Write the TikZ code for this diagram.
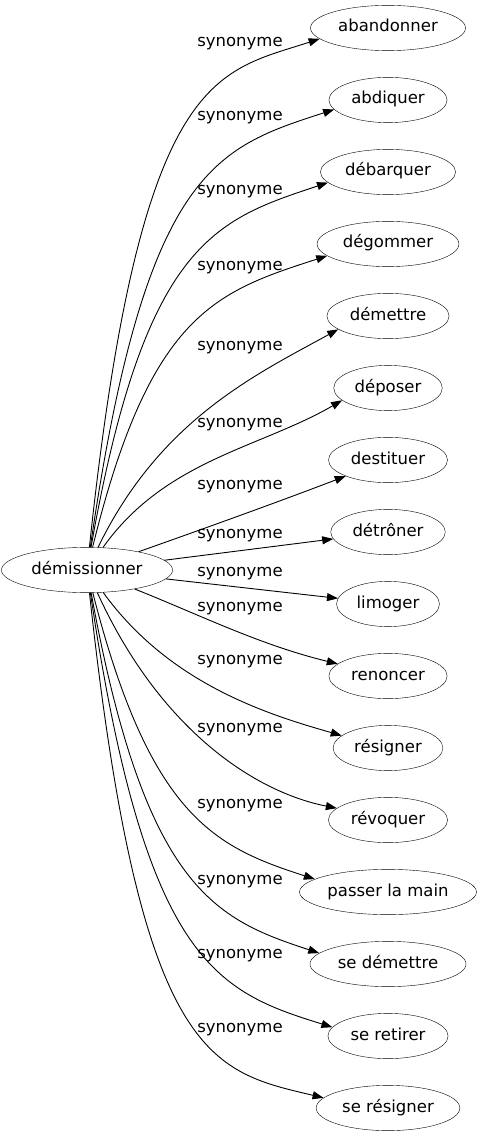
\documentclass[tikz,border=0pt]{standalone}
\usepackage{fontspec}
\setmainfont{DejaVu Sans}
\usetikzlibrary{arrows.meta,shapes.geometric}
\tikzset{
  word/.style={draw=black,ellipse,font=\fontsize{16.5}{18}\selectfont,text height=12pt,text depth=4pt,inner xsep=5pt,inner ysep=8pt},
  lbl/.style={font=\fontsize{16.5}{18}\selectfont,inner sep=0pt},
  syn/.style={-{Triangle[length=11pt,width=8pt]},line width=0.9pt,draw=black}
}
\begin{document}
\begin{tikzpicture}[x=1pt,y=-1pt]
  \useasboundingbox (0,0) rectangle (481,1139);
  % source word
  \node[word] (dem) at (87,570) {démissionner};
  % synonyms, one per row
  \node[word] (abandonner) at (388,28) {abandonner};
  \node[word] (abdiquer) at (388,100) {abdiquer};
  \node[word] (debarquer) at (388,172) {débarquer};
  \node[word] (degommer) at (388,244) {dégommer};
  \node[word] (demettre) at (388,316) {démettre};
  \node[word] (deposer) at (388,388) {déposer};
  \node[word] (destituer) at (388,460) {destituer};
  \node[word] (detroner) at (388,532) {détrôner};
  \node[word] (limoger) at (388,604) {limoger};
  \node[word] (renoncer) at (388,676) {renoncer};
  \node[word] (resigner) at (388,748) {résigner};
  \node[word] (revoquer) at (388,820) {révoquer};
  \node[word,inner xsep=2pt] (passer) at (388,892) {passer la main};
  \node[word] (sedemettre) at (388,964) {se démettre};
  \node[word] (seretirer) at (388,1036) {se retirer};
  \node[word] (seresigner) at (388,1108) {se résigner};
  % edge labels
  \node[lbl] (l1) at (240,44) {synonyme};
  \node[lbl] (l2) at (240,118) {synonyme};
  \node[lbl] (l3) at (240,192) {synonyme};
  \node[lbl] (l4) at (240,268) {synonyme};
  \node[lbl] (l5) at (240,348) {synonyme};
  \node[lbl] (l6) at (240,425) {synonyme};
  \node[lbl] (l7) at (240,487) {synonyme};
  \node[lbl] (l8) at (240,536) {synonyme};
  \node[lbl] (l9) at (240,574) {synonyme};
  \node[lbl] (l10) at (240,609) {synonyme};
  \node[lbl] (l11) at (240,662) {synonyme};
  \node[lbl] (l12) at (240,730) {synonyme};
  \node[lbl] (l13) at (240,806) {synonyme};
  \node[lbl] (l14) at (240,882) {synonyme};
  \node[lbl] (l15) at (240,956) {synonyme};
  \node[lbl] (l16) at (240,1030) {synonyme};
  % edges
  \draw[syn] (dem) .. controls (140,70) and (215,73) .. (abandonner.189);
  \draw[syn] (dem) .. controls (145,170) and (215,148) .. (abdiquer.190);
  \draw[syn] (dem) .. controls (145,242) and (215,220) .. (debarquer.190);
  \draw[syn] (dem) .. controls (150,314) and (215,292) .. (degommer.191);
  \draw[syn] (dem) .. controls (160,420) and (255,375) .. (demettre.195);
  \draw[syn] (dem) .. controls (165,460) and (260,448) .. (deposer.195);
  \draw[syn] (dem) .. controls (200,530) and (270,505) .. (destituer);
  \draw[syn] (dem) -- (detroner);
  \draw[syn] (dem) -- (limoger);
  \draw[syn] (dem) .. controls (200,615) and (260,645) .. (renoncer);
  \draw[syn] (dem) .. controls (170,685) and (270,715) .. (resigner.165);
  \draw[syn] (dem) .. controls (160,730) and (255,792) .. (revoquer.167);
  \draw[syn] (dem) .. controls (150,817) and (215,847) .. (passer.170);
  \draw[syn] (dem) .. controls (145,889) and (215,919) .. (sedemettre.171);
  \draw[syn] (dem) .. controls (145,961) and (215,991) .. (seretirer.171);
  \draw[syn] (dem) .. controls (140,1060) and (210,1071) .. (seresigner.171);
\end{tikzpicture}
\end{document}
